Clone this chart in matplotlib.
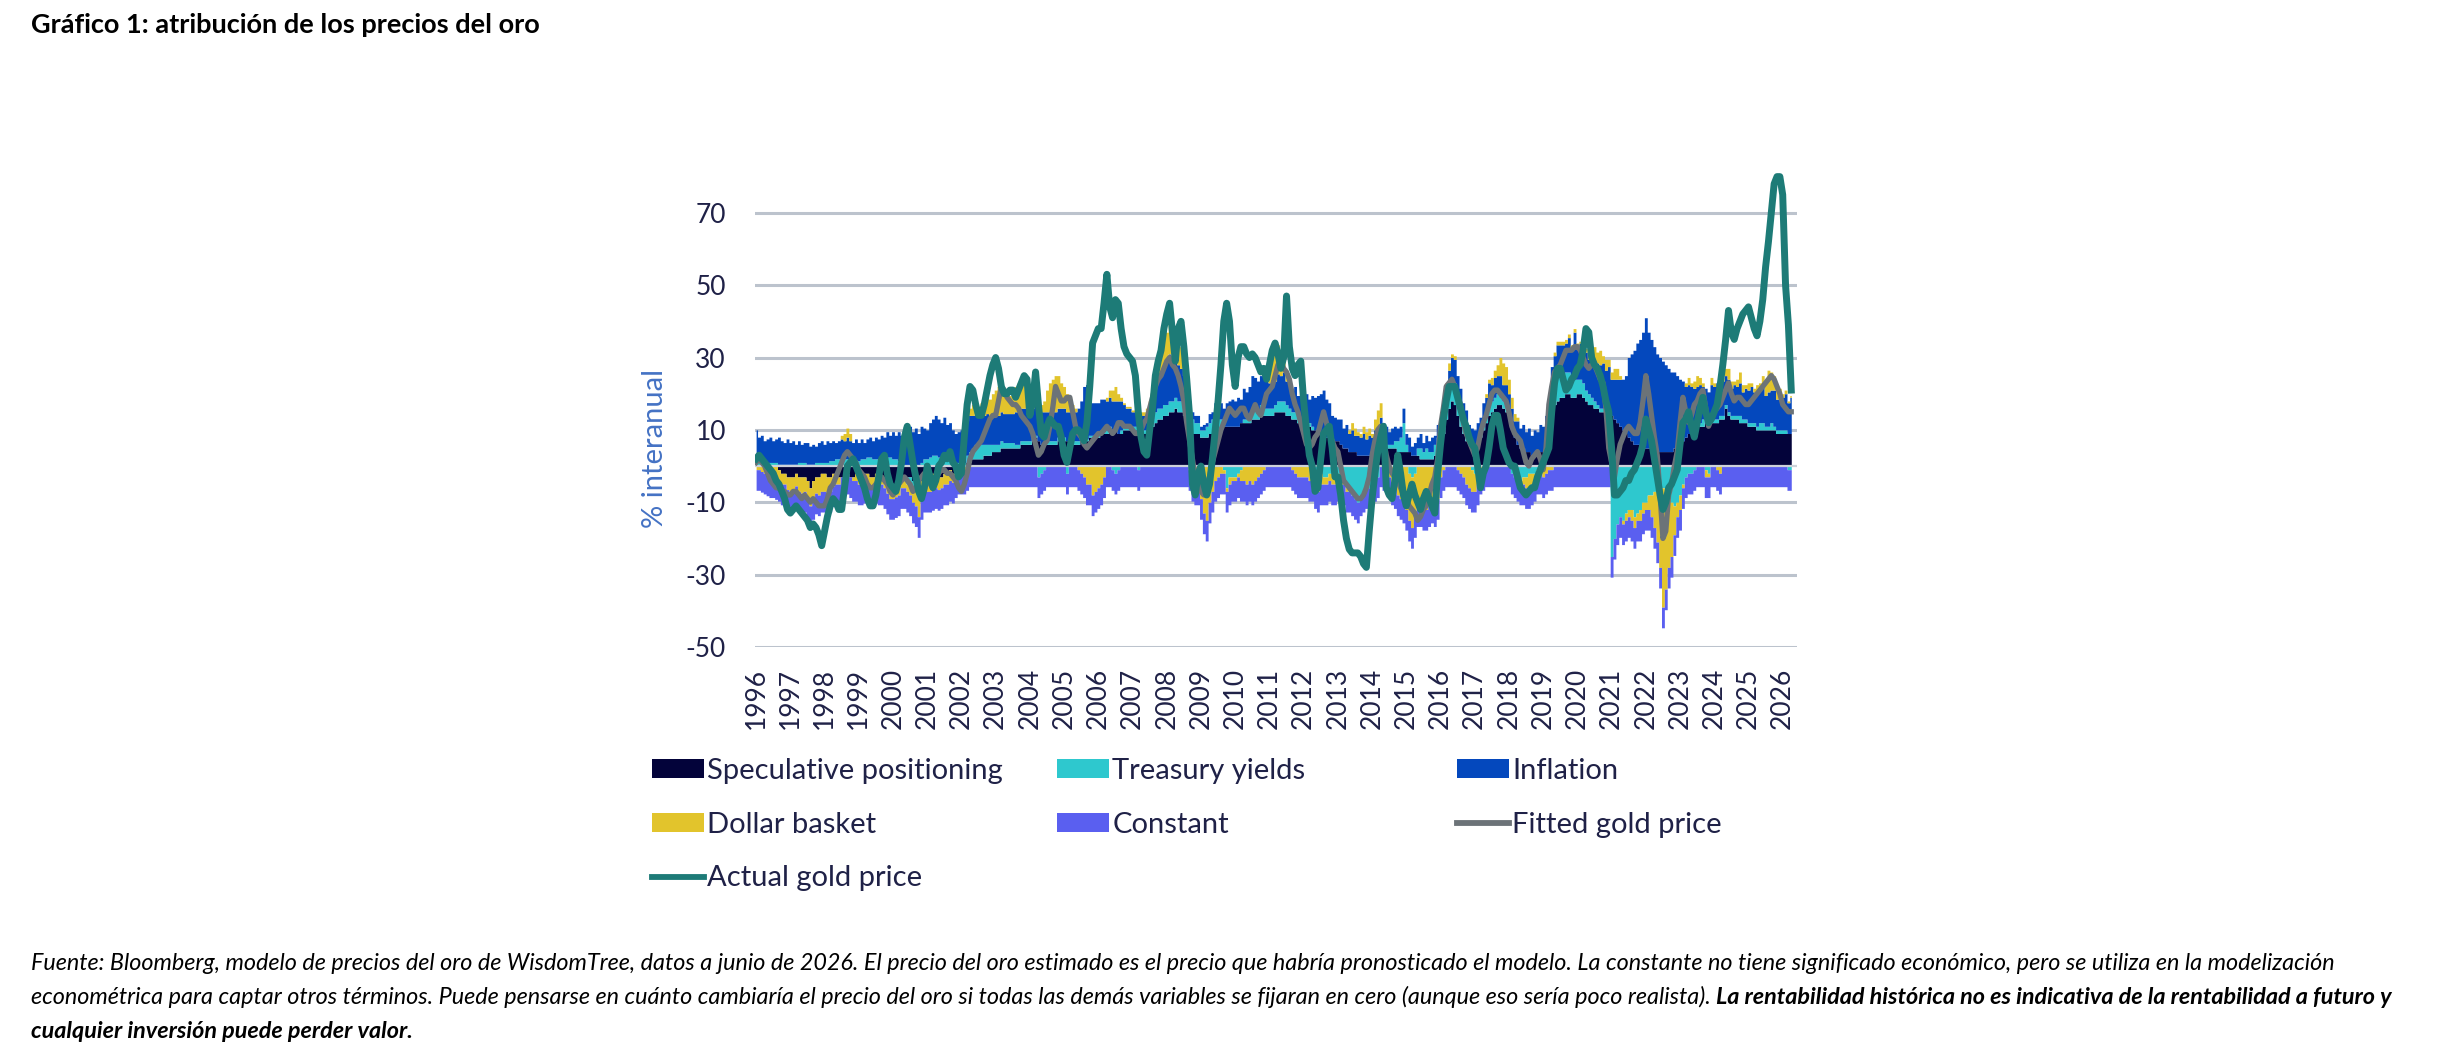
import numpy as np
import matplotlib
matplotlib.use("Agg")
import matplotlib.pyplot as plt
from matplotlib.patches import Patch
from matplotlib.lines import Line2D

plt.rcParams['font.family'] = ['Lato', 'DejaVu Sans']

# monthly data, Jan 1996 .. Apr 2026 (% y/y contributions)
START_YEAR = 1996

spec = [
    0, 0, 0, 0, 0, 0, 0, 0, -1, -2, -2, -3,
    -3, -3, -2, -3, -3, -3, -4, -6, -4, -3, -3, -2,
    -2, -3, -3, -2, -2, -3, -3, -2, -2, -3, -3, -2,
    -3, -3, -2, -2, -3, -3, -2, -3, -3, -4, -5, -6,
    -6, -5, -4, -3, -3, -3, -3, -4, -5, -7, -4, -3,
    -3, -3, -2, -2, -3, -3, -2, -2, -1, -2, -1, 0,
    0, 0, 1, 1, 2, 2, 2, 2, 3, 3, 3, 4,
    4, 4, 5, 5, 5, 5, 5, 5, 5, 6, 6, 6,
    6, 7, 8, 7, 6, 6, 6, 6, 6, 6, 7, 7,
    7, 7, 6, 6, 6, 6, 7, 7, 7, 8, 8, 8,
    8, 9, 9, 9, 10, 10, 10, 9, 9, 10, 10, 10,
    10, 10, 10, 9, 9, 9, 10, 11, 12, 13, 13, 14,
    14, 15, 15, 16, 15, 15, 14, 13, 11, 9, 9, 9,
    8, 8, 8, 9, 9, 10, 10, 10, 11, 11, 11, 11,
    11, 11, 12, 12, 12, 12, 13, 13, 13, 14, 14, 14,
    14, 14, 15, 15, 15, 15, 14, 14, 13, 13, 12, 12,
    12, 11, 11, 10, 10, 9, 9, 9, 8, 8, 7, 7,
    7, 6, 5, 5, 4, 4, 4, 3, 3, 3, 3, 3,
    3, 4, 5, 6, 6, 5, 5, 5, 5, 4, 4, 4,
    4, 4, 3, 3, 3, 2, 2, 2, 2, 2, 3, 4,
    5, 9, 13, 16, 18, 17, 14, 11, 9, 7, 6, 5,
    5, 6, 8, 10, 12, 14, 15, 16, 17, 17, 16, 15,
    13, 10, 8, 6, 5, 5, 4, 4, 3, 3, 3, 4,
    4, 5, 8, 14, 17, 18, 19, 19, 20, 20, 19, 19,
    20, 20, 19, 18, 17, 17, 16, 16, 15, 15, 14, 14,
    14, 13, 12, 11, 10, 9, 8, 7, 6, 6, 5, 5,
    5, 5, 5, 4, 4, 4, 4, 4, 4, 4, 5, 5,
    6, 7, 8, 9, 10, 10, 11, 11, 11, 12, 12, 12,
    12, 12, 13, 13, 16, 14, 13, 13, 13, 12, 12, 12,
    11, 11, 11, 10, 10, 10, 10, 10, 10, 10, 9, 9,
    9, 9, 9, 9,
]

treas = [
    2, 1.5, 1.5, 1, 1, 1, 1, 1, 0.5, 0.5, 0.5, 0.5,
    0.5, 0.5, 0.5, 1, 1, 1, 0.5, 0.5, 0.5, 1, 1, 1,
    1, 1, 1.5, 1.5, 2, 2, 2, 2, 2, 1.5, 1.5, 1.5,
    1.5, 2, 2, 2.5, 2.5, 2, 2, 2, 2, 2.5, 2.5, 2.5,
    2, 2, 1.5, 1, -1, -2, -3, -3, -2, -1, 1, 2,
    2, 2.5, 3, 3, 2.5, 2, 2, 2, 1.5, 1.5, 1, 1,
    1, 1, 2, 3, 3, 4, 4, 4, 3, 3, 3, 2,
    2, 2, 2, 1.5, 1.5, 1.5, 1.5, 1, 1, 1, 1, 1,
    1, 1, 0.5, -3, -2, -1, 1, 1, 1, 1, 1, 1,
    1, -2, 1, 1, 1, 1, 1, 1, 0.5, 0.5, 0.5, 0.5,
    0.5, 0.5, 0.5, 1, 1, -1, -2, -1, 1, 1, 1, 1,
    1, 1, -1, 1, 1, 1, 2, 2, 3, 3, 3, 3,
    3, 3, 3, 3, 3, 3, 3, 3, 3, 4, 3, 3,
    2, 2, 3, 3, 4, 4, 3, 3, -1, -6, -3, -3,
    -3, -2, -1, 1, 1, 2, 3, 4, 2, 3, 2, 2,
    2, 2, 2, 3, 3, 3, 3, 2, 2, 2, 2, 1,
    1, 1, 1, 1, -1, -2, -2, -3, -3, -2, -2, -2,
    -2, -3, -4, -6, -7, -8, -9, -10, -8, -7, -6, -6,
    -5, -4, -3, 2, 2, 1, 1, 1, 2, 3, 4, 8,
    2, -2, -3, -2, 2, 3, 2, 3, 2, 2, 3, 4,
    3, 4, 5, 5, 6, 6, 6, 5, 4, 3, 1, -1,
    -2, -1, 1, 2, 2, 3, 3, 3, 3, 2, 2, 2,
    2, -2, -3, -4, -4, -3, -3, -2, -2, -2, -1, -1,
    -1, 1, 3, 5, 6, 7, 7, 6, 6, 6, 5, 5,
    4, 4, 4, 3, 3, 2, 2, 1, 1, 1, 1, 1,
    -25, -20, -16, -14, -15, -13, -12, -12, -14, -13, -12, -10,
    -10, -8, -8, -7, -7, -6, -6, -7, -8, -10, -11, -10,
    -8, -5, -3, -2, -2, -1, 1, 1, 2, -1, -2, 1,
    1, 1, 1, 1, 1, 1, 1, 1, 1, 2, 1, 1,
    1, 1, 1, 1, 2, 2, 1, 1, 2, 1, 1, 1,
    1, 1, -1, -1,
]

infl = [
    8, 6.5, 7, 6, 6.5, 7, 6, 6.5, 7.5, 6.5, 6, 7,
    6, 6.5, 5.5, 6, 5, 5.5, 6, 5, 5.5, 4.5, 5.5, 6,
    5, 6, 5, 5.5, 4.5, 5, 5.5, 5, 6, 5.5, 5, 6,
    5, 5.5, 4.5, 5, 5.5, 5, 6, 5.5, 6.5, 5.5, 7, 6,
    7.5, 6.5, 8, 7.5, 9, 10.5, 11, 9.5, 10.5, 9, 10, 8.5,
    8, 9.5, 10, 11, 10.5, 10, 11.5, 9.5, 10.5, 8.5, 8, 8.5,
    9, 8.5, 9.5, 10, 9, 8.5, 7.5, 8.5, 8, 8.5, 7.5, 8,
    8, 8, 8, 8, 8, 8, 8, 9, 9, 9, 9, 9,
    8, 8, 8, 9, 9, 9, 8, 8, 8, 8, 8, 8,
    8, 8, 8, 8, 8, 9, 10, 14, 15, 10, 9, 9,
    9, 9, 9, 8, 8, 8, 8, 9, 8, 6, 5, 5,
    4, 4, 4, 4, 4, 5, 5, 6, 8, 9, 10, 11,
    12, 13, 12, 11, 10, 9, 8, 6, 4, 2, 2, 2,
    1, 1.5, 1, 2.5, 2, 3.5, 3, 4.5, 5, 6.5, 7, 7.5,
    7, 8, 6.5, 8.5, 7.5, 8, 9, 7.5, 8.5, 8, 9, 7.5,
    7, 8, 6.5, 7.5, 7, 8, 6.5, 7.5, 6, 7, 5.5, 6.5,
    7, 8, 6.5, 8.5, 9, 10.5, 11, 12, 10.5, 9.5, 7, 6.5,
    6, 7, 5.5, 6.5, 5, 6, 4.5, 5.5, 5, 6, 4.5, 5.5,
    5, 6, 4.5, 5.5, 4, 5, 3.5, 4.5, 4, 3.5, 3, 4,
    3, 4, 2.5, 3.5, 3, 4, 2.5, 3.5, 3, 4, 2.5, 3.5,
    3, 3.5, 4, 5.5, 6, 6.5, 5, 5.5, 4.5, 5.5, 4.5, 5.5,
    5, 6, 4.5, 5.5, 5, 6, 4.5, 5.5, 5, 6, 4.5, 5.5,
    5, 6, 4.5, 6.5, 5.5, 6.5, 5.5, 6.5, 5.5, 7, 6.5, 7.5,
    7, 8, 6.5, 8.5, 7.5, 8.5, 7.5, 8.5, 8, 9.5, 8.5, 13,
    9, 10, 8.5, 10.5, 9.5, 10.5, 11, 11.5, 12, 12.5, 11.5, 12.5,
    10, 11, 12, 13, 14, 16, 22, 24, 26, 28, 30, 32,
    36, 32, 30, 29, 27, 26, 25, 24, 23, 22, 21, 20,
    18, 16.5, 14, 13.5, 12, 11.5, 10, 10.5, 9, 9.5, 8.5, 9.5,
    9, 10, 8.5, 9.5, 8, 9, 7.5, 8.5, 8, 9, 7.5, 8.5,
    9, 10, 8.5, 9.5, 9, 10, 8.5, 9.5, 9, 10, 8.5, 9.5,
    9, 10, 8.5, 10,
]

dollar = [
    -1, -1, -1.5, -2, -2.5, -3, -3, -3.5, -3, -3, -3, -3.5,
    -4, -4, -3.5, -4, -4.5, -4, -4.5, -5, -5, -4.5, -5, -5,
    -5, -4.5, -4, -3.5, -3, -2, 1, 2, 2.5, 2, -1, -2,
    -2, -2, -2.5, -3, -3, -3, -2.5, -2, -2, -2, -2.5, -3,
    -3, -3.5, -4, -3, -2, -2, -2, -3, -4, -6, -5, -4,
    -4, -4, -4.5, -4, -3.5, -3, -3, -3, -3, -2.5, -2, -2,
    -2, -2, -1, 2, 3, 4, 3, 3, 4, 5, 5, 6,
    7, 8, 8, 7, 6, 5, 6, 7, 8, 8, 7, 6,
    4, 3, 2, 2, 2, 3, 6, 8, 9, 10, 9, 7,
    6, 5, 4, 2, 1, -1, -2, -3, -5, -5, -8, -7,
    -6, -5, -3, 1, 2, 3, 4, 2, 1, 0.5, 0.5, 0.5,
    0.5, 0.5, 0.5, 1, 1, 1, 1, 2, 4, 6, 7, 8,
    8, 9, 7, 5, 6, 6, 4, 2, -1, -4, -5, -5,
    -9, -13, -15, -10, -7, -4, -3, -2, -1, -1, -2, -1,
    -1, -1, -3, -4, -5, -4, -5, -4, -3, -2, -1, 2,
    4, 7, 10, 8, 5, 3, 2, 1, -1, -2, -3, -3,
    -3, -3, -4, -4, -5, -5, -3, -2, -2, -2, -3, -3,
    -2, -2, -1, -1, 1, 2, 2, 1, 1, 2, 2, 2,
    1, 3, 6, 4, -1, -2, -3, -5, -6, -8, -9, -10,
    -12, -13, -14, -12, -11, -11, -12, -12, -11, -10, -11, -9,
    -3, -1, 1, 2, 1, 1, -1, -2, -3, -5, -6, -6,
    -5, -4, -2, -1, 1, 1, 2, 2, 3, 5, 6, 5,
    4, 3, 2, 1, -1, -2, -3, -4, -3, -2, -1, -1,
    -2, -2, -1, -1, 1, 1, 1, 1, 1, 1, 1, 1,
    1, 0.5, 0.5, 1, 2, 3, 4, 3, 4, 2, 3, 2,
    2, 3, 3, 1, -1, -2, -2, -3, -3, -2, -3, -3,
    -2, -4, -6, -10, -14, -22, -33, -27, -20, -15, -8, -4,
    -4, -1, 1, 2, 1, 2, 3, 2, 1, -2, -1, 2,
    1, -1, -2, 1, 2, 3, 2, 1, 2, 3, 2, 1,
    2, 1, 1, 2, 2, 3, 4, 6, 5, 4, 3, 2,
    1, 1, 0.5, 0.5,
]

constant = -5.7

fitted = [
    1, 2, 1, 0, -2, -4, -5, -6, -6, -7, -7, -8,
    -8, -7, -7, -8, -9, -8, -9, -10, -9, -10, -11, -11,
    -11, -9, -6, -5, -3, -1, 1, 3, 4, 3, 2, 1,
    -1, -2, -3, -5, -6, -6, -5, -4, -3, -4, -5, -7,
    -8, -7, -5, -4, -3, -4, -5, -7, -6, -4, -3, -2,
    -3, -5, -6, -4, -2, -1, -1, -2, -2, -3, -4, -6,
    -7, -5, -2, 2, 4, 5, 6, 7, 9, 11, 13, 14,
    14, 18, 22, 21, 19, 18, 17, 17, 16, 14, 13, 12,
    11, 9, 6, 3, 4, 6, 7, 11, 16, 22, 20, 18,
    18, 19, 19, 15, 11, 9, 8, 6, 5, 6, 7, 8,
    9, 9, 10, 11, 10, 9, 10, 12, 12, 11, 11, 11,
    10, 9, 9, 10, 12, 13, 16, 19, 22, 24, 25, 27,
    29, 30, 28, 27, 25, 22, 18, 12, 7, 2, -3, -5,
    -7, -8, -5, -3, 1, 4, 7, 10, 12, 14, 16, 15,
    14, 15, 16, 16, 14, 13, 15, 17, 15, 14, 17, 20,
    21, 22, 25, 28, 29, 27, 26, 24, 20, 17, 15, 12,
    9, 6, 5, 6, 8, 9, 12, 15, 12, 9, 7, 5,
    4, 0, -4, -5, -6, -7, -8, -9, -9, -8, -6, -3,
    3, 7, 10, 11, 7, 3, 0, -2, -3, -4, -6, -8,
    -9, -11, -12, -13, -15, -14, -12, -11, -8, -5, -3, 2,
    11, 16, 22, 23, 24, 22, 19, 17, 12, 9, 7, 5,
    3, 5, 9, 12, 14, 17, 20, 21, 21, 20, 19, 18,
    15, 11, 9, 8, 7, 4, 1, 0, 2, 3, 4, 2,
    -1, 5, 17, 22, 26, 27, 28, 30, 32, 32, 32, 33,
    33, 32, 30, 28, 27, 28, 28, 26, 24, 23, 16, 5,
    1, -3, 2, 6, 8, 10, 11, 10, 9, 9, 12, 18,
    25, 20, 14, 8, 3, -8, -20, -18, -8, -5, 0, 4,
    12, 19, 15, 12, 14, 17, 18, 20, 21, 16, 11, 13,
    15, 16, 17, 19, 21, 23, 20, 18, 19, 19, 18, 17,
    17, 18, 19, 20, 21, 22, 23, 24, 25, 24, 22, 20,
    17, 16, 15, 15,
]

actual = [
    2, 3, 2, 1, 0, -1, -2, -4, -5, -7, -9, -12,
    -13, -12, -11, -12, -13, -14, -15, -17, -16, -17, -19, -22,
    -18, -14, -11, -9, -10, -12, -12, -6, 0, 1, 2, 0,
    -2, -4, -6, -9, -11, -11, -8, -3, 2, 3, -2, -5,
    -6, -7, -4, 1, 8, 11, 6, 1, -3, -7, -9, -6,
    0, -3, -6, -4, 0, 1, 3, 2, 4, 1, 0, -3,
    -2, 8, 17, 22, 21, 17, 14, 14, 17, 21, 25, 28,
    30, 27, 22, 20, 20, 21, 21, 19, 21, 23, 25, 24,
    14, 18, 26, 17, 9, 8, 11, 13, 12, 11, 11, 8,
    3, 1, 5, 9, 10, 10, 9, 7, 12, 22, 34, 36,
    38, 38, 45, 53, 44, 41, 46, 45, 38, 33, 31, 30,
    29, 25, 15, 8, 4, 3, 10, 16, 25, 29, 32, 38,
    42, 45, 37, 29, 38, 40, 33, 24, 14, -5, -8, -2,
    0, -5, -8, -5, 2, 10, 18, 28, 40, 45, 40, 28,
    22, 30, 33, 33, 31, 30, 31, 30, 28, 26, 27, 24,
    28, 32, 34, 31, 27, 30, 47, 33, 27, 25, 28, 29,
    18, 10, 3, 0, -7, -6, 2, 9, 10, 11, 5, -3,
    -3, -8, -15, -20, -23, -24, -24, -24, -25, -27, -28, -18,
    -9, -2, 4, 8, 11, -6, -8, -9, -4, 3, -2, -8,
    -11, -8, -5, -8, -10, -12, -9, -7, -9, -11, -13, -2,
    6, 13, 18, 22, 22, 22, 19, 16, 13, 11, 8, 6,
    5, 0, -6, -2, 0, 5, 11, 14, 14, 10, 5, 3,
    1, 0, 0, -3, -6, -7, -8, -7, -6, -6, -3, -1,
    1, 3, 5, 15, 23, 27, 27, 24, 21, 22, 24, 25,
    27, 28, 32, 38, 37, 30, 28, 27, 25, 22, 18, 15,
    5, -8, -8, -7, -6, -4, -4, -2, -1, 1, 3, 6,
    13, 10, 7, 2, -3, -8, -12, -10, -6, -5, -3, -1,
    6, 12, 13, 15, 11, 8, 12, 16, 19, 15, 12, 13,
    15, 17, 22, 28, 35, 43, 37, 35, 38, 40, 42, 43,
    44, 41, 38, 36, 40, 46, 55, 62, 70, 78, 80, 80,
    75, 50, 39, 21,
]

stack_labels = ['Speculative positioning', 'Treasury yields', 'Inflation',
                'Dollar basket', 'Constant']
line_labels = ['Fitted gold price', 'Actual gold price']
year_ticks = list(range(1996, 2027))
y_ticks = [-50, -30, -10, 10, 30, 50, 70]

title = 'Gráfico 1: atribución de los precios del oro'
note_1 = ('Fuente: Bloomberg, modelo de precios del oro de WisdomTree, datos a junio de 2026. '
          'El precio del oro estimado es el precio que habría pronosticado el modelo. '
          'La constante no tiene significado económico, pero se utiliza en la modelización')
note_2 = ('econométrica para captar otros términos. Puede pensarse en cuánto cambiaría el precio '
          'del oro si todas las demás variables se fijaran en cero (aunque eso sería poco realista). ')
note_2b = 'La rentabilidad histórica no es indicativa de la rentabilidad a futuro y'
note_3 = 'cualquier inversión puede perder valor.'

stack_colors = ['#03033A', '#2EC8CE', '#0448BD', '#E2C42C', '#5A5FF0']
fitted_color = '#6C7378'
actual_color = '#1D7B77'
text_navy = '#1F2147'

n = len(spec)
x = START_YEAR + np.arange(n) / 12.0
series = [np.array(spec, float), np.array(treas, float), np.array(infl, float),
          np.array(dollar, float), np.full(n, constant)]

fig = plt.figure(figsize=(24.5, 10.58), dpi=100)
ax = fig.add_axes([0.3082, 0.3885, 0.4253, 0.4514])

pos_base = np.zeros(n)
neg_base = np.zeros(n)
for vals, col in zip(series, stack_colors):
    pos = np.clip(vals, 0, None)
    neg = np.clip(vals, None, 0)
    ax.fill_between(x, pos_base, pos_base + pos, step='mid', color=col, lw=0, zorder=2)
    ax.fill_between(x, neg_base, neg_base + neg, step='mid', color=col, lw=0, zorder=2)
    pos_base = pos_base + pos
    neg_base = neg_base + neg

ax.axhline(0, color='#CDD2D9', lw=1.6, zorder=3)
ax.plot(x, fitted, color=fitted_color, lw=3.8, zorder=4, solid_joinstyle='round')
ax.plot(x, actual, color=actual_color, lw=5, zorder=5, solid_joinstyle='round')

ax.set_xlim(1995.97, 2026.42)
ax.set_ylim(-50, 82)
ax.set_yticks(y_ticks)
ax.set_yticklabels([str(v) for v in y_ticks])
ax.set_xticks(year_ticks)
ax.set_xticklabels([str(v) for v in year_ticks], rotation=90)
ax.yaxis.grid(True, color='#BCC3CD', lw=2.2)
ax.set_axisbelow(True)
for s in ax.spines.values():
    s.set_visible(False)
ax.tick_params(axis='both', length=0, labelsize=19, labelcolor=text_navy)
ax.tick_params(axis='y', pad=21)
ax.tick_params(axis='x', pad=15)

fig.text(655 / 2450, 1 - 448 / 1058, '% interanual', rotation=90, ha='center', va='center',
         fontsize=21, color='#4472C4')

# legend, three columns placed like the original
patches = [Patch(facecolor=c, edgecolor='none') for c in stack_colors]
lines = [Line2D([], [], color=fitted_color, lw=4.2), Line2D([], [], color=actual_color, lw=4.2)]
columns = [
    ([patches[0], patches[3], lines[1]], [stack_labels[0], stack_labels[3], line_labels[1]], 652),
    ([patches[1], patches[4]], [stack_labels[1], stack_labels[4]], 1057),
    ([patches[2], lines[0]], [stack_labels[2], line_labels[0]], 1457),
]
for hs, ls, px in columns:
    leg = fig.legend(hs, ls, loc='upper left', bbox_to_anchor=(px / 2450, 1 - 758 / 1058),
                     frameon=False, fontsize=21, handlelength=1.78, handleheight=0.62,
                     handletextpad=0.12, labelspacing=0.95, borderpad=0, borderaxespad=0)
    for t in leg.get_texts():
        t.set_color(text_navy)

renderer = fig.canvas.get_renderer()


def fit_width(txt, width_px):
    w = txt.get_window_extent(renderer).width
    txt.set_fontsize(txt.get_fontsize() * width_px / w)


t_title = fig.text(31 / 2450, 1 - 33 / 1058, title, fontsize=17, fontweight='bold', va='baseline')
fit_width(t_title, 511)

x0 = 31 / 2450
t1 = fig.text(x0, 1 - 970 / 1058, note_1, fontsize=14, style='italic', va='baseline')
fit_width(t1, 2313)
fs = t1.get_fontsize()
t2 = fig.text(x0, 1 - 1004 / 1058, note_2, fontsize=fs, style='italic', va='baseline')
w2 = t2.get_window_extent(renderer).width
fig.text(x0 + w2 / 2450, 1 - 1004 / 1058, note_2b, fontsize=fs, style='italic',
         fontweight='bold', va='baseline')
fig.text(x0, 1 - 1038 / 1058, note_3, fontsize=fs, style='italic', fontweight='bold',
         va='baseline')

fig.savefig('out.png', dpi=100)
